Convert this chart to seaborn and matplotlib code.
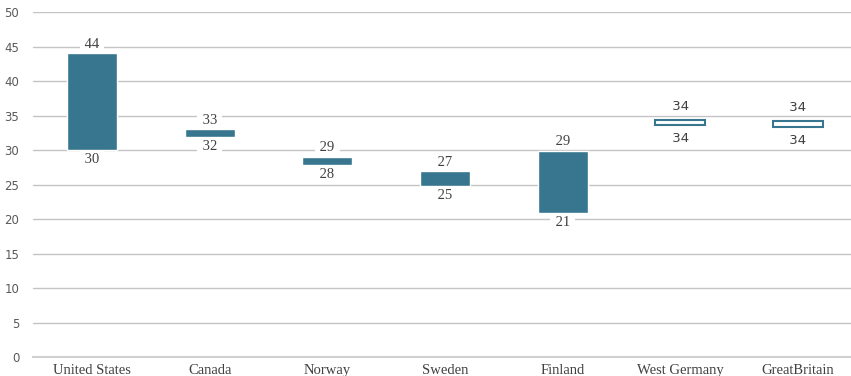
import matplotlib
matplotlib.use("Agg")
import matplotlib.pyplot as plt
import seaborn as sns

countries = ["United States", "Canada", "Norway", "Sweden", "Finland",
             "West Germany", "GreatBritain"]
low = [30, 31.9, 27.8, 24.8, 20.9, 33.7, 33.4]
high = [44, 33.0, 29.0, 26.9, 29.9, 34.3, 34.2]
low_labels = ["30", "32", "28", "25", "21", "34", "34"]
high_labels = ["44", "33", "29", "27", "29", "34", "34"]
hollow = ["West Germany", "GreatBritain"]

bar_color = "#38768f"
heights = [h - l for h, l in zip(high, low)]

sns.set_style("white")
fig = plt.figure(figsize=(8.51, 3.76), dpi=100)
ax = fig.add_axes([0.039, 0.05, 0.961, 0.918])

sns.barplot(x=countries, y=heights, bottom=low, color=bar_color,
            saturation=1, width=0.425, ax=ax, zorder=3)

for name, patch in zip(countries, ax.patches):
    if name in hollow:
        patch.set_facecolor("white")
        patch.set_edgecolor(bar_color)
        patch.set_linewidth(1.5)

for i, name in enumerate(countries):
    if name in hollow:
        fam, size, off = "DejaVu Sans", 9.5, 5
    else:
        fam, size, off = "Liberation Serif", 10.5, 2
    box = dict(boxstyle="square,pad=0.1", fc="white", ec="none")
    for txt, y, dy, va in [(high_labels[i], high[i], off, "bottom"),
                           (low_labels[i], low[i], -off, "top")]:
        ax.annotate(" " + txt + " ", (i, y), xytext=(0, dy), textcoords="offset points",
                    ha="center", va=va, fontsize=size, color="#404040",
                    family=fam, bbox=box, zorder=4)

ax.set_ylim(0, 50)
ax.set_xlim(-0.5, 6.45)
ax.set_yticks(range(0, 51, 5))
ax.yaxis.grid(True, color="#c4c4c4", linewidth=1)
ax.set_axisbelow(True)
sns.despine(ax=ax, left=True)
ax.spines["bottom"].set_color("#d0d0d0")
ax.spines["bottom"].set_linewidth(1.5)
ax.tick_params(axis="y", length=0, pad=10, labelsize=8.5, labelcolor="#595959")
ax.tick_params(axis="x", length=0, pad=5, labelsize=10.5, labelcolor="#404040")
for t in ax.get_xticklabels():
    t.set_family("Liberation Serif")
ax.set_xlabel("")
ax.set_ylabel("")

fig.savefig("out.png", dpi=100)
